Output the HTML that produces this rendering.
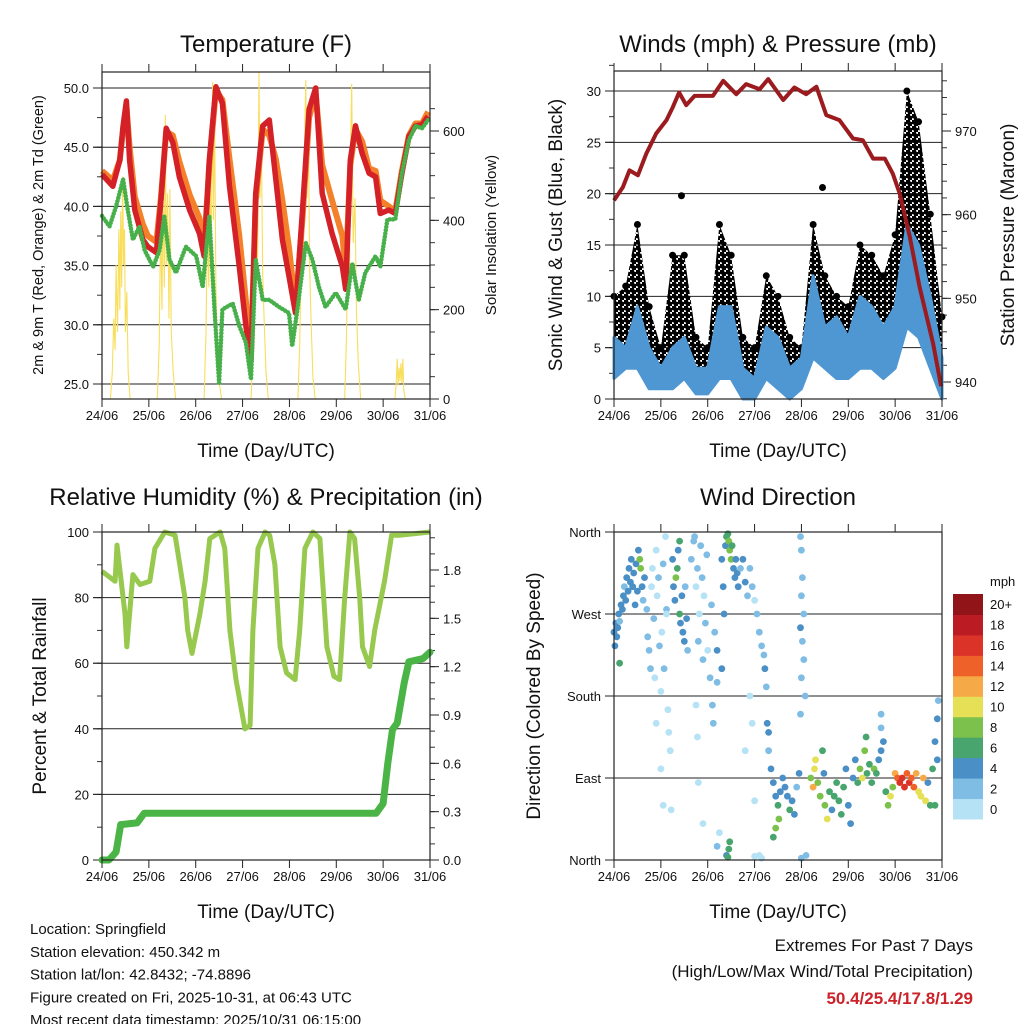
<!DOCTYPE html>
<html><head><meta charset="utf-8"><style>
html,body{margin:0;padding:0;background:#fff;}
svg{display:block;font-family:"Liberation Sans",Arial,sans-serif;}
</style></head><body>
<svg id="chart" width="1024" height="1024" viewBox="0 0 1024 1024">
<defs>
<pattern id="dotpat" width="6" height="6" patternUnits="userSpaceOnUse">
<circle cx="1.5" cy="1.5" r="2.8" fill="#000"/><circle cx="4.5" cy="4.5" r="2.8" fill="#000"/>
</pattern>
</defs>
<g id="g"></g>
</svg>
<script>
// ---------- DATA ----------
const dayLabels=["24/06","25/06","26/06","27/06","28/06","29/06","30/06","31/06"];
const tempDays=[0,0.23,0.38,0.45,0.52,0.59,0.70,0.87,0.98,1.16,1.26,1.37,1.51,1.65,1.87,2.08,2.18,2.29,2.43,2.57,2.72,2.93,3.07,3.18,3.28,3.43,3.57,3.71,3.85,3.99,4.13,4.28,4.42,4.56,4.70,4.91,5.13,5.20,5.30,5.41,5.55,5.70,5.84,5.94,6.12,6.26,6.40,6.55,6.69,6.83,6.96];
const tempRed=[42.7,41.7,43.9,46.8,48.9,43.9,39.7,37.2,36.6,36.1,40.6,46.6,45.4,42.5,39.7,37.7,35.8,43.9,50.1,48.7,41.7,34.9,29.9,27.0,41.1,46.8,47.3,42.3,37.2,34.1,31.0,39.7,48.2,50.0,41.1,37.7,34.9,33.0,43.9,46.8,44.5,42.8,42.5,39.4,39.7,39.4,42.8,45.9,46.8,46.9,47.6];
const tempOrange=[43.0,42.2,43.9,46.5,48.5,45.0,40.8,38.5,37.5,37.0,40.8,46.3,46.0,43.8,41.0,39.0,36.5,43.5,49.8,49.0,44.0,37.5,32.0,27.5,40.5,46.5,46.0,44.0,40.5,36.5,31.5,39.0,47.5,49.5,43.5,40.5,37.5,34.5,43.5,46.5,45.5,43.2,43.0,40.5,40.0,39.6,43.0,46.0,47.0,47.0,48.0];
const dewDays=[0,0.16,0.30,0.45,0.55,0.66,0.80,0.91,1.09,1.23,1.33,1.44,1.58,1.79,2.01,2.15,2.29,2.40,2.50,2.57,2.79,2.93,3.07,3.18,3.28,3.43,3.57,3.78,3.99,4.06,4.17,4.35,4.49,4.63,4.77,4.99,5.20,5.34,5.48,5.62,5.84,5.94,6.09,6.26,6.40,6.55,6.69,6.83,6.96];
const dewVals=[39.2,38.3,40.0,42.3,39.7,37.2,38.3,36.3,34.9,36.3,39.2,35.5,34.4,36.6,35.8,33.2,39.2,31.3,25.1,31.3,31.8,29.9,28.5,25.4,35.5,32.1,32.1,31.5,31.0,28.2,31.3,36.9,35.5,33.2,31.5,32.7,31.3,35.2,32.1,34.4,35.8,34.9,38.9,38.9,42.8,45.6,46.8,46.6,47.3];
const solarDays=[0,0.18,0.22,0.25,0.28,0.3,0.33,0.36,0.38,0.4,0.42,0.44,0.46,0.48,0.5,0.53,0.56,0.6,1.18,1.22,1.25,1.28,1.3,1.33,1.35,1.37,1.4,1.43,1.45,1.48,1.52,1.57,2.18,2.22,2.25,2.28,2.3,2.33,2.36,2.38,2.4,2.43,2.46,2.5,2.55,3.18,3.22,3.26,3.3,3.32,3.35,3.37,3.4,3.43,3.46,3.5,3.55,4.18,4.22,4.25,4.28,4.3,4.33,4.35,4.37,4.4,4.43,4.46,4.5,4.55,5.18,5.22,5.25,5.28,5.3,5.33,5.36,5.4,5.43,5.47,5.52,6.25,6.28,6.3,6.32,6.34,6.36,6.38,6.4,6.42,6.44,6.47,7];
const solarVals=[0,0,60,180,110,300,150,380,200,420,250,498,300,380,150,240,60,0,0,120,400,200,470,250,636,300,460,180,470,150,60,0,0,150,400,250,560,300,710,400,650,250,120,40,0,0,100,350,500,300,732,450,600,280,180,60,0,0,120,300,500,350,620,714,450,660,300,180,50,0,0,150,400,250,520,706,350,450,200,80,0,0,40,90,30,70,40,80,35,90,20,0,0];

const windDays=[0,0.25,0.5,0.75,1,1.25,1.5,1.75,2,2.25,2.5,2.75,3,3.25,3.5,3.75,4,4.25,4.5,4.75,5,5.25,5.5,5.75,6,6.25,6.5,6.75,7];
const blueLo=[2,3,3,1,1,1,2,0.5,0.5,2,2,0,0,2,1,0,1,4,3,2,2,3,3,2,3,7,6,3,0];
const blueHi=[6,5,9,5,3,5,6,3,3,9,9,3,2,7,6,3,4,12,7,8,6,10,9,7,9,17,15,10,4];
const gustLo=[3,5,5,2,1,3,5,2,1,4,4,1,0,3,3,0,2,7,5,4,4,6,6,5,6,14,10,6,2];
const gustHi=[10,11,17,9,5,14,14,6,5,17,14,6,5,12,10,6,5,17,12,10,9,15,14,12,16,30,27,18,8];
const gustOutDays=[1.44,4.45];
const gustOutVals=[19.8,20.6];
const presDays=[0,0.19,0.33,0.51,0.69,0.90,1.12,1.26,1.39,1.54,1.72,2.11,2.33,2.61,2.82,3.11,3.29,3.61,3.85,4.10,4.32,4.53,4.81,5.10,5.31,5.53,5.78,5.95,6.10,6.31,6.52,6.81,6.98];
const presVals=[961.7,963.3,965.3,964.7,967.3,969.7,971.3,972.9,974.6,973.1,974.2,974.2,976.0,974.4,975.6,975.0,976.2,973.7,975.2,974.4,975.3,971.9,971.3,969.1,968.9,966.7,966.7,964.9,962.5,957.4,951.4,944.6,939.5];

const rhDays=[0,0.28,0.32,0.45,0.49,0.53,0.66,0.81,1.02,1.13,1.34,1.56,1.66,1.77,1.83,1.92,2.09,2.20,2.30,2.52,2.62,2.73,2.86,3.05,3.16,3.22,3.33,3.48,3.58,3.69,3.80,3.94,4.12,4.22,4.33,4.50,4.65,4.80,4.95,5.07,5.18,5.29,5.39,5.50,5.56,5.71,5.82,6.03,6.18,6.35,7.0];
const rhVals=[88,85,96,80,75,65,87,84,85,95,100,99,90,80,70,63,75,85,98,100,95,70,55,40,41,70,95,100,99,90,65,57,55,70,95,100,98,65,56,55,80,100,98,80,65,59,70,85,99,99,100];
const precipDays=[0,0.15,0.3,0.4,0.75,0.9,5.85,6.0,6.1,6.2,6.3,6.45,6.55,6.85,7.0];
const precipVals=[0,0,0.05,0.22,0.23,0.29,0.29,0.35,0.6,0.81,0.85,1.1,1.23,1.25,1.29];

const dirDays=[0,0.02,0.04,0.06,0.08,0.1,0.12,0.15,0.18,0.2,0.22,0.25,0.27,0.3,0.32,0.35,0.37,0.4,0.42,0.45,0.47,0.5,0.52,0.55,0.57,0.6,0.62,0.65,0.12,
0.7,0.72,0.75,0.78,0.8,0.82,0.85,0.87,0.9,0.92,0.95,0.97,1.0,1.02,1.05,1.07,1.1,1.12,1.15,1.17,1.2,1.0,1.05,0.9,1.12,1.22,
1.25,1.27,1.3,1.32,1.35,1.37,1.4,1.42,1.45,1.47,1.5,1.52,1.55,1.57,1.4,
1.65,1.7,1.72,1.75,1.78,1.8,1.82,1.85,1.88,1.9,1.92,1.95,1.98,2.0,2.05,2.08,2.1,2.12,2.15,2.2,1.75,1.78,1.8,1.9,2.2,2.25,
2.3,2.33,2.35,2.38,2.4,2.43,2.45,2.47,2.5,2.52,2.55,2.58,2.6,2.63,2.65,2.7,2.75,2.8,2.85,2.2,2.3,2.4,2.43,2.47,2.45,
2.9,2.95,3.0,3.05,3.1,3.15,3.2,3.22,3.25,3.27,3.3,3.3,2.9,2.95,3.0,3.1,3.15,3.0,2.8,
3.98,4.0,4.02,4.0,4.05,3.98,4.02,4.05,4.0,4.08,3.98,4.1,4.0,
3.35,3.4,3.45,3.5,3.52,3.55,3.6,3.65,3.7,3.75,3.8,3.85,3.9,3.95,3.45,3.4,
4.2,4.25,4.28,4.3,4.35,4.4,4.45,4.48,4.5,4.55,4.6,4.65,4.7,4.75,4.8,4.85,4.9,4.95,5.0,5.05,5.1,5.15,5.2,5.25,5.3,5.35,5.38,5.4,5.45,5.5,5.55,5.6,5.65,5.7,5.75,5.8,5.85,5.9,5.95,6.0,6.05,6.1,6.15,6.2,6.25,6.3,6.35,6.4,6.45,6.5,6.55,6.6,6.65,6.7,6.75,6.8,6.85,6.9,6.92,6.9,6.85,5.7,5.7];
const dirDeg=[250,235,260,245,255,270,262,280,275,290,300,285,310,295,320,305,330,300,315,280,325,295,340,330,320,300,285,310,216,
275,245,230,210,300,320,265,200,340,290,310,235,185,250,325,210,355,275,165,140,120,100,60,150,270,55,
330,300,285,310,320,340,270,260,290,250,240,300,265,230,350,
330,350,355,300,320,240,270,345,310,220,290,260,335,230,200,280,170,150,250,195,170,135,85,40,15,30,
330,300,270,345,355,358,350,340,330,345,320,310,330,315,300,320,330,305,290,230,210,5,3,20,12,
320,300,285,270,250,235,225,210,190,150,140,120,180,150,65,5,2,4,120,
355,340,310,290,270,255,240,220,200,180,160,5,2,
100,85,70,60,45,75,90,80,70,55,65,50,80,95,35,25,
90,80,100,110,85,70,120,95,60,45,75,55,70,85,65,50,80,100,60,40,90,110,85,100,90,120,135,95,105,85,100,95,110,120,130,75,60,70,80,95,90,85,90,80,95,85,90,80,95,75,70,90,65,85,60,100,130,155,175,110,60,160,145];
const dirSpd=[4,4,4,5,4,4,3,4,4,4,3,4,4,4,5,4,4,4,5,4,4,4,5,8,8,4,3,4,6,
2,2,2,2,1,1,2,1,1,1,2,2,1,1,2,2,1,2,1,1,1,1,1,1,1,1,
4,4,4,8,6,4,6,4,4,4,4,3,4,3,6,
2,2,2,1,2,2,1,2,2,2,1,2,2,1,2,2,2,2,2,2,1,1,1,1,2,1,
4,4,4,4,7,7,8,8,8,6,4,4,4,4,4,3,4,4,2,4,4,4,6,6,7,
2,2,1,2,2,2,2,4,3,4,4,2,1,1,1,1,1,1,1,
2,2,2,2,2,4,2,2,2,2,2,2,3,
4,4,4,6,8,4,4,4,4,7,4,4,3,4,8,6,
8,12,10,10,8,8,6,4,8,10,6,4,6,6,6,6,6,4,4,4,4,4,6,8,10,8,6,6,6,6,8,6,4,4,4,6,8,10,8,12,14,16,16,16,14,16,14,14,12,10,10,12,10,4,6,6,4,4,2,4,6,2,2];
const speedLabels=["0","2","4","6","8","10","12","14","16","18","20+"];
const speedColors=["#b5e2f5","#80bde5","#4a8fc6","#48a56e","#7cc14b","#e5e056","#f6a947","#ee6229","#dc3328","#bb1c24","#901418"];

// ---------- HELPERS ----------
const NS="http://www.w3.org/2000/svg";
const root=document.getElementById('g');
function mk(tag,attrs,parent,text){const e=document.createElementNS(NS,tag);for(const k in attrs)e.setAttribute(k,attrs[k]);if(text!==undefined)e.textContent=text;(parent||root).appendChild(e);return e;}
function lin(d0,d1,r0,r1){return v=>r0+(v-d0)*(r1-r0)/(d1-d0);}
function pts(xs,ys,sx,sy){return xs.map((d,i)=>sx(d).toFixed(1)+','+sy(ys[i]).toFixed(1)).join(' ');}

function frame(P,name){
  const g=mk('g',{});
  
  
  return g;
}
function xAxis(g,P,sx){
  const ax=mk('g',{},g);
  
  
  dayLabels.forEach((lab,i)=>{
    const x=sx(i);
    mk('line',{x1:x,x2:x,y1:P.y1,y2:P.y1+8,stroke:'#222','stroke-width':1},ax);
    mk('line',{x1:x,x2:x,y1:P.y0,y2:P.y0-8,stroke:'#222','stroke-width':1},ax);
    const t=mk('text',{x:x,y:P.y1+21,'text-anchor':'middle','font-size':13,fill:'#111'},ax,lab);
    
    
  });
  const tt=mk('text',{x:(P.x0+P.x1)/2,y:P.y1+58,'text-anchor':'middle','font-size':19,fill:'#111'},g,'Time (Day/UTC)');
  
  
}
function yTicks(g,P,sy,majors,minors,labels,side,grid){
  const ax=mk('g',{},g);
  
  
  const xb=side==='left'?P.x0:P.x1, dir=side==='left'?-1:1;
  minors.forEach(v=>{const y=sy(v);mk('line',{x1:xb,x2:xb+dir*5,y1:y,y2:y,stroke:'#333','stroke-width':1},ax);});
  majors.forEach((v,i)=>{const y=sy(v);
    mk('line',{x1:xb,x2:xb+dir*9,y1:y,y2:y,stroke:'#222','stroke-width':1},ax);
    if(grid) mk('line',{x1:P.x0-9,x2:P.x1,y1:y,y2:y,stroke:'#222','stroke-width':1},ax);
    const t=mk('text',{x:side==='left'?xb-13:xb+13,y:y+5,'text-anchor':side==='left'?'end':'start','font-size':13,fill:'#111'},ax,labels[i]);
    
    
  });
}
function border(g,P){
  const b=mk('rect',{x:P.x0,y:P.y0,width:P.x1-P.x0,height:P.y1-P.y0,fill:'none',stroke:'#222','stroke-width':1.2},g);
  
  
}
function title(x,y,txt,name){const t=mk('text',{x:x,y:y,'text-anchor':'middle','font-size':24,fill:'#111'},root,txt);
  }
function vtitle(x,y,txt,size,name){const t=mk('text',{x:x,y:y,'text-anchor':'middle','font-size':size,fill:'#111',transform:`rotate(-90 ${x} ${y})`},root,txt);
  }
function range(a,b,s){const r=[];for(let v=a;v<=b+1e-9;v+=s)r.push(+v.toFixed(3));return r;}

// ---------- PANEL 1: TEMPERATURE ----------
{
  const P={x0:102,x1:430,y0:72,y1:399};
  const g=frame(P,'temperature-panel');
  const sx=lin(0,7,P.x0,P.x1), sy=lin(25,50,384,88), ss=lin(0,600,399,131);
  yTicks(g,P,sy,[25,30,35,40,45,50],range(25,50,2.5),["25.0","30.0","35.0","40.0","45.0","50.0"],'left',true);
  yTicks(g,P,ss,[0,200,400,600],range(0,650,50),["0","200","400","600"],'right',false);
  const s=mk('polyline',{points:pts(solarDays,solarVals,sx,ss),fill:'none',stroke:'#f8de5a','stroke-width':1.1},g);
  
  const o=mk('polyline',{points:pts(tempDays,tempOrange,sx,sy),fill:'none',stroke:'#f4812a','stroke-width':6,'stroke-linejoin':'round'},g);
  
  const r=mk('polyline',{points:pts(tempDays,tempRed,sx,sy),fill:'none',stroke:'#d42027','stroke-width':5.5,'stroke-linejoin':'round'},g);
  
  const d=mk('polyline',{points:pts(dewDays,dewVals,sx,sy),fill:'none',stroke:'#48b04a','stroke-width':4.5,'stroke-linecap':'round','stroke-dasharray':'0.1 3.2'},g);
  
  border(g,P); xAxis(g,P,sx);
  title(266,52,'Temperature (F)','temperature-title');
  vtitle(43,235,'2m & 9m T (Red, Orange) & 2m Td (Green)',14.5,'temperature-y-title');
  vtitle(496,235,'Solar Insolation (Yellow)',15,'solar-y-title');
}

// ---------- PANEL 2: WINDS ----------
{
  const P={x0:614,x1:942,y0:71,y1:399};
  const g=frame(P,'winds-panel');
  const sx=lin(0,7,P.x0,P.x1), sy=lin(0,30,399,91), sp=lin(940,970,382,131);
  yTicks(g,P,sy,[0,5,10,15,20,25,30],range(0,32.5,2.5),["0","5","10","15","20","25","30"],'left',true);
  yTicks(g,P,sp,[940,950,960,970],range(938,976,2),["940","950","960","970"],'right',false);
  const gp=pts(windDays,gustHi,sx,sy)+' '+pts(windDays.slice().reverse(),gustLo.slice().reverse(),sx,sy);
  const gb=mk('polygon',{points:gp,fill:'url(#dotpat)',stroke:'none'},g);
  
  windDays.forEach((dd,i)=>{const c=mk('circle',{cx:sx(dd),cy:sy(gustHi[i]),r:3.5,fill:'#000'},g);
    });
  gustOutDays.forEach((dd,i)=>{const c=mk('circle',{cx:sx(dd),cy:sy(gustOutVals[i]),r:3.5,fill:'#000'},g);
    });
  const bp=pts(windDays,blueHi,sx,sy)+' '+pts(windDays.slice().reverse(),blueLo.slice().reverse(),sx,sy);
  const bb=mk('polygon',{points:bp,fill:'#4f97d2',stroke:'#4f97d2','stroke-width':3,'stroke-linejoin':'round'},g);
  
  const pl=mk('polyline',{points:pts(presDays,presVals,sx,sp),fill:'none',stroke:'#9b1b1f','stroke-width':4,'stroke-linejoin':'round'},g);
  
  border(g,P); xAxis(g,P,sx);
  title(778,52,'Winds (mph) & Pressure (mb)','winds-title');
  vtitle(562,235,'Sonic Wind & Gust (Blue, Black)',19,'wind-y-title');
  vtitle(1014,235,'Station Pressure (Maroon)',19,'pressure-y-title');
}

// ---------- PANEL 3: RH & PRECIP ----------
{
  const P={x0:102,x1:430,y0:532,y1:860};
  const g=frame(P,'humidity-panel');
  const sx=lin(0,7,P.x0,P.x1), sy=lin(0,100,860,532), sp=lin(0,1.8,860,570);
  yTicks(g,P,sy,[0,20,40,60,80,100],range(0,100,10),["0","20","40","60","80","100"],'left',true);
  yTicks(g,P,sp,[0,0.3,0.6,0.9,1.2,1.5,1.8],range(0,2.0,0.1),["0.0","0.3","0.6","0.9","1.2","1.5","1.8"],'right',false);
  const rl=mk('polyline',{points:pts(rhDays,rhVals,sx,sy),fill:'none',stroke:'#97c94e','stroke-width':5,'stroke-linejoin':'round'},g);
  
  const pl=mk('polyline',{points:pts(precipDays,precipVals,sx,sp),fill:'none',stroke:'#4bb446','stroke-width':7,'stroke-linejoin':'round','stroke-linecap':'round'},g);
  
  border(g,P); xAxis(g,P,sx);
  title(266,505,'Relative Humidity (%) & Precipitation (in)','humidity-title');
  vtitle(46,696,'Percent & Total Rainfall',19,'humidity-y-title');
}

// ---------- PANEL 4: WIND DIRECTION ----------
{
  const P={x0:614,x1:942,y0:532,y1:860};
  const g=frame(P,'wind-direction-panel');
  const sx=lin(0,7,P.x0,P.x1), sy=lin(0,360,860,532);
  yTicks(g,P,sy,[0,90,180,270,360],[],["North","East","South","West","North"],'left',true);
  dirDays.forEach((dd,i)=>{
    const idx=Math.min(10,Math.floor(dirSpd[i]/2));
    const c=mk('circle',{cx:sx(dd).toFixed(1),cy:sy(dirDeg[i]).toFixed(1),r:3.4,fill:speedColors[idx]},g);
    
    
  });
  border(g,P); xAxis(g,P,sx);
  title(778,505,'Wind Direction','wind-direction-title');
  vtitle(540,696,'Direction (Colored By Speed)',19,'direction-y-title');
  const cb=mk('g',{});
  
  
  const top=594,bot=819,h=(bot-top)/11;
  speedColors.forEach((c,i)=>{
    const y=bot-(i+1)*h;
    mk('rect',{x:953,y:y,width:30,height:h+0.5,fill:c},cb);
    const t=mk('text',{x:990,y:y+h/2+5,'font-size':13,fill:'#111'},cb,speedLabels[i]);
    
    
  });
  mk('text',{x:990,y:586,'font-size':13,fill:'#111'},cb,'mph');
}

// ---------- FOOTER TEXT ----------
const leftLines=["Location: Springfield","Station elevation: 450.342 m","Station lat/lon: 42.8432; -74.8896","Figure created on Fri, 2025-10-31, at 06:43 UTC","Most recent data timestamp: 2025/10/31 06:15:00"];
leftLines.forEach((s,i)=>{const t=mk('text',{x:30,y:934+i*22.8,'font-size':15,fill:'#111'},root,s);
  });
{
  const a=mk('text',{x:973,y:951,'text-anchor':'end','font-size':17,fill:'#111'},root,'Extremes For Past 7 Days');
  
  const b=mk('text',{x:973,y:977,'text-anchor':'end','font-size':17,fill:'#111'},root,'(High/Low/Max Wind/Total Precipitation)');
  
  const c=mk('text',{x:973,y:1004,'text-anchor':'end','font-size':17,'font-weight':'bold',fill:'#cc2229'},root,'50.4/25.4/17.8/1.29');
  
}
</script>
</body></html>
